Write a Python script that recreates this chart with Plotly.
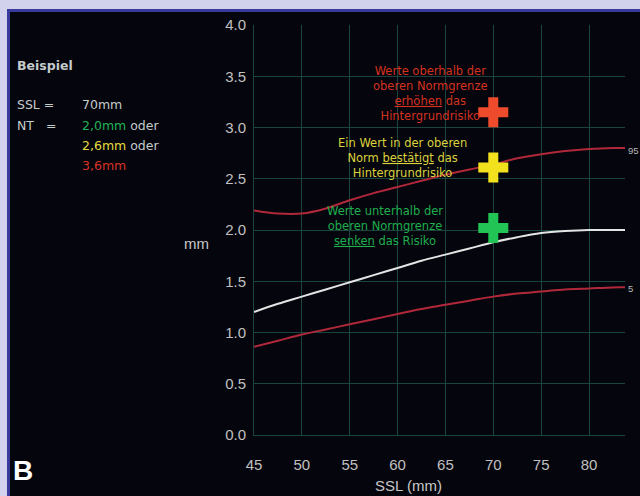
import plotly.graph_objects as go

# ---- data ----
ssl = [45, 47.5, 50, 52.5, 55, 57.5, 60, 62.5, 65, 67.5, 70, 72.5, 75, 77.5, 80, 82.5, 84]
upper = [2.19, 2.16, 2.16, 2.21, 2.29, 2.36, 2.42, 2.48, 2.54, 2.59, 2.64, 2.70, 2.74, 2.77, 2.79, 2.80, 2.80]
median = [1.20, 1.28, 1.35, 1.42, 1.49, 1.56, 1.63, 1.70, 1.76, 1.82, 1.88, 1.93, 1.97, 1.99, 2.00, 2.00, 2.00]
lower = [0.86, 0.92, 0.98, 1.03, 1.08, 1.13, 1.18, 1.23, 1.27, 1.31, 1.35, 1.38, 1.40, 1.42, 1.43, 1.44, 1.44]

example_x = [70, 70, 70]
example_y = [2.02, 2.61, 3.15]
example_colors = ["#22c455", "#f2e21e", "#ee4a2c"]

x_ticks = [45, 50, 55, 60, 65, 70, 75, 80]
y_ticks = [0.0, 0.5, 1.0, 1.5, 2.0, 2.5, 3.0, 3.5, 4.0]

W, H = 640, 496
ML, MR, MT, MB = 254, 15, 25, 61
PW, PH = W - ML - MR, H - MT - MB

def px(x):
    return (x - ML) / PW

def py(y):
    return (H - MB - y) / PH

FONT = "Liberation Sans, Arial, sans-serif"
DFONT = "DejaVu Sans, Verdana, sans-serif"
GRID = "#18463e"
RED = "#b0283a"

fig = go.Figure()
fig.add_trace(go.Scatter(x=ssl, y=upper, mode="lines", line=dict(color=RED, width=2, shape="spline"), hoverinfo="skip"))
fig.add_trace(go.Scatter(x=ssl, y=median, mode="lines", line=dict(color="#e4e4e4", width=2, shape="spline"), hoverinfo="skip"))
fig.add_trace(go.Scatter(x=ssl, y=lower, mode="lines", line=dict(color=RED, width=2, shape="spline"), hoverinfo="skip"))
fig.add_trace(go.Scatter(x=example_x, y=example_y, mode="markers",
                         marker=dict(symbol="cross", size=25, color=example_colors, line=dict(width=0)),
                         hoverinfo="skip"))

annotations = []
# in-plot explanatory texts
annotations.append(dict(x=63.4, y=3.33, xref="x", yref="y", showarrow=False,
    text="Werte oberhalb der<br>oberen Normgrenze<br><span style='text-decoration:underline'>erhöhen</span> das<br>Hintergrundrisiko",
    font=dict(family=DFONT, size=11.5, color="#d4321f"), align="center"))
annotations.append(dict(x=60.5, y=2.70, xref="x", yref="y", showarrow=False,
    text="Ein Wert in der oberen<br>Norm <span style='text-decoration:underline'>bestätigt</span> das<br>Hintergrundrisiko",
    font=dict(family=DFONT, size=11.5, color="#dcd23c"), align="center"))
annotations.append(dict(x=58.7, y=2.04, xref="x", yref="y", showarrow=False,
    text="Werte unterhalb der<br>oberen Normgrenze<br><span style='text-decoration:underline'>senken</span> das Risiko",
    font=dict(family=DFONT, size=11.5, color="#1fae4c"), align="center"))

TXT = "#c4cccc"
def left_text(x, y, text, color=TXT, size=12.5, anchor="left", family=DFONT):
    annotations.append(dict(x=px(x), y=py(y), xref="paper", yref="paper", showarrow=False,
                            xanchor=anchor, yanchor="middle", text=text,
                            font=dict(family=family, size=size, color=color)))

left_text(15, 65, "<b>Beispiel</b>")
left_text(15, 105, "SSL =")
left_text(80, 105, "70mm")
left_text(15, 125, "NT   =")
left_text(80, 125, "<span style='color:#22b455'>2,0mm</span> oder")
left_text(80, 145, "<span style='color:#e6dc3c'>2,6mm</span> oder")
left_text(80, 165, "3,6mm", color="#d83226")

# axis titles
left_text(196, 243, "mm", color="#c8c8c8", size=15, anchor="center", family=FONT)
left_text(408, 485, "SSL (mm)", color="#c8c8c8", size=15, anchor="center", family=FONT)
# percentile labels at right edge
left_text(626, 150, "95", color="#b8b8b8", size=9.5, family=FONT)
left_text(626, 288, "5", color="#b8b8b8", size=9.5, family=FONT)
# panel letter
left_text(11, 470, "<b>B</b>", color="#ffffff", size=28, family=FONT)

shapes = [
    dict(type="rect", xref="paper", yref="paper", x0=px(7), x1=px(700), y0=py(9), y1=py(600),
         fillcolor="#3a3a9c", line=dict(width=0), layer="below"),
    dict(type="rect", xref="paper", yref="paper", x0=px(10), x1=px(700), y0=py(12), y1=py(600),
         fillcolor="#05050d", line=dict(width=0), layer="below"),
]

fig.update_layout(
    width=W, height=H,
    margin=dict(l=ML, r=MR, t=MT, b=MB, pad=0),
    paper_bgcolor="#d2d2ec",
    plot_bgcolor="#05050d",
    showlegend=False,
    annotations=annotations,
    shapes=shapes,
    font=dict(family=FONT, color="#c0c0c0"),
)
fig.update_xaxes(range=[45, 83.76], tickvals=x_ticks, ticktext=[str(v) for v in x_ticks],
                 showgrid=True, gridcolor=GRID, gridwidth=1, showline=True, linecolor=GRID, linewidth=1,
                 zeroline=False, ticks="", ticklabelstandoff=16,
                 tickfont=dict(family=FONT, size=15, color="#c0c0c0"))
fig.update_yaxes(range=[0, 4], tickvals=y_ticks, ticktext=[f"{v:.1f}" for v in y_ticks],
                 showgrid=True, gridcolor=GRID, gridwidth=1, showline=True, linecolor=GRID, linewidth=1,
                 zeroline=False, ticks="", ticklabelstandoff=4,
                 tickfont=dict(family=FONT, size=15, color="#c0c0c0"))

fig.write_html("out.html", config={"displayModeBar": False},
               post_script="document.body.style.margin='0px';")
